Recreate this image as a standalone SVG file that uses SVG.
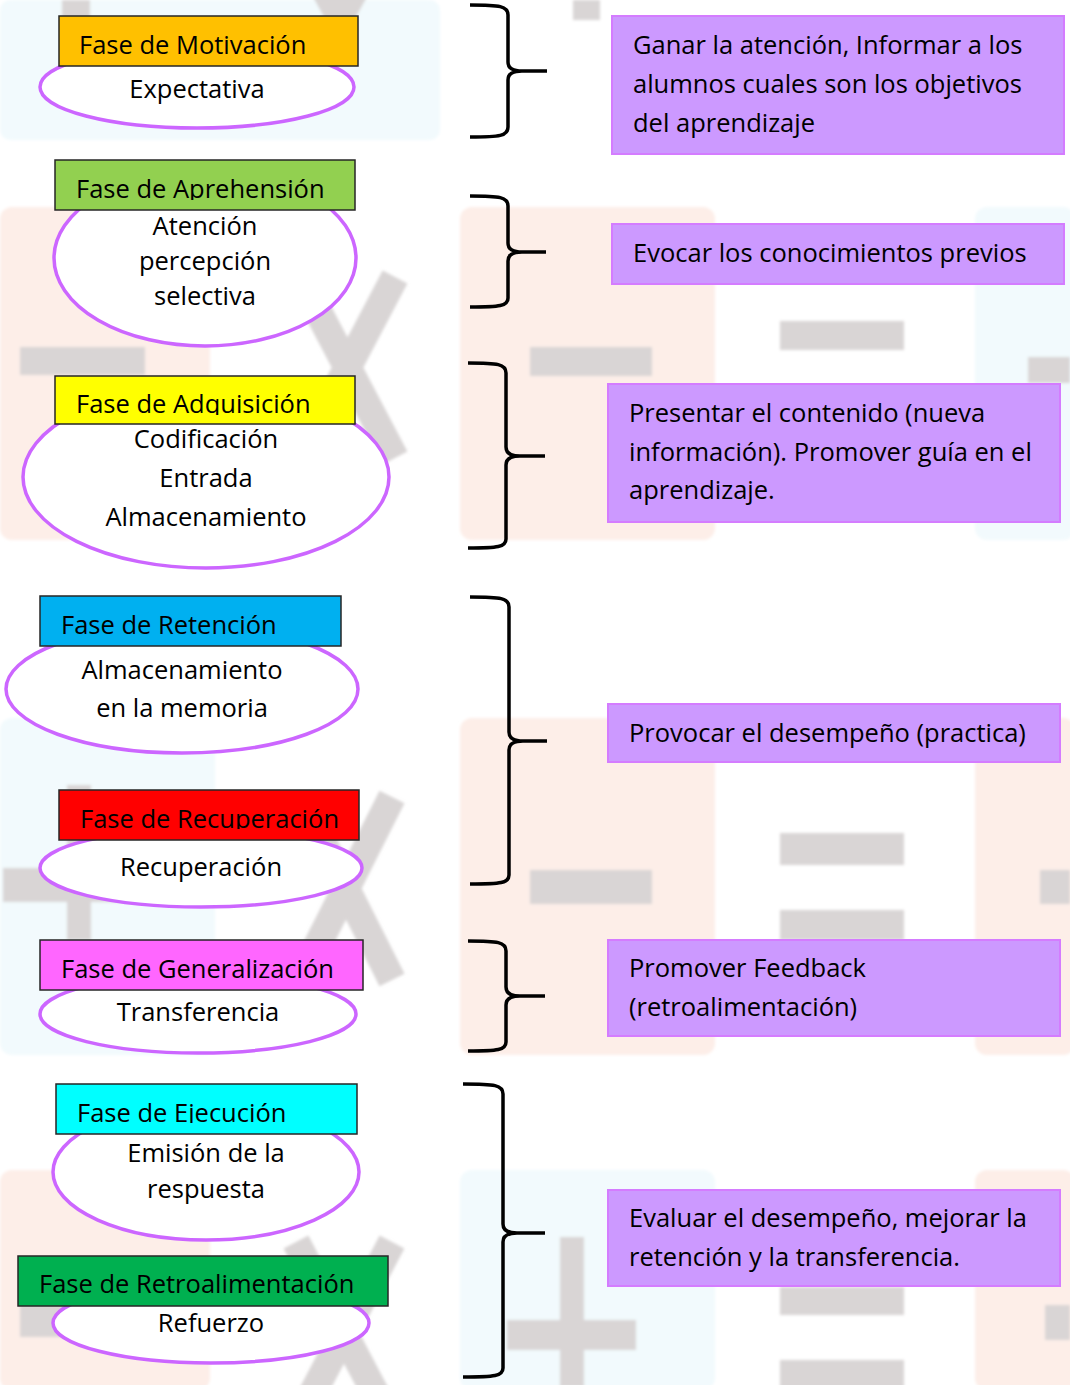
<svg xmlns="http://www.w3.org/2000/svg" width="1070" height="1385" viewBox="0 0 1070 1385">
<style>
  text { font-family: "Open Sans", "Liberation Sans", sans-serif; font-size: 25.5px; fill: #000; }
  .c { text-anchor: middle; }
  .lbl { stroke: #262626; stroke-width: 1.5; }
  .ell { fill: #fff; stroke: #cc66ff; stroke-width: 3.5; }
  .box { fill: #cc99ff; stroke: #d47cff; stroke-width: 2; }
  .brace { fill: none; stroke: #000; stroke-width: 3.5; stroke-linecap: butt; stroke-linejoin: round; }
  .tintP { fill: #fdeee8; }
  .tintB { fill: #f2fafd; }
  .sym { fill: #d9d5d5; }
  .symx { stroke: #d9d5d5; stroke-width: 28; fill: none; }
</style>
<defs>
  <filter id="soft" x="-5%" y="-5%" width="110%" height="110%">
    <feGaussianBlur stdDeviation="1.5"/>
  </filter>
  <clipPath id="clipAp"><rect x="55" y="160" width="300" height="40"/></clipPath>
  <clipPath id="clipAd"><rect x="55" y="376" width="300" height="39"/></clipPath>
  <clipPath id="clipRe"><rect x="59" y="790" width="300" height="39"/></clipPath>
  <clipPath id="clipEj"><rect x="56" y="1084" width="301" height="39"/></clipPath>
</defs>
<rect x="0" y="0" width="1070" height="1385" fill="#fff"/>

<g id="background" filter="url(#soft)">
  <rect class="tintB" x="0" y="0" width="440" height="140" rx="10"/>
  <rect class="tintP" x="0" y="207" width="210" height="333" rx="12"/>
  <rect class="tintP" x="460" y="207" width="255" height="333" rx="12"/>
  <rect class="tintB" x="975" y="207" width="100" height="333" rx="12"/>
  <rect class="tintB" x="0" y="718" width="215" height="337" rx="12"/>
  <rect class="tintP" x="460" y="718" width="255" height="337" rx="12"/>
  <rect class="tintP" x="975" y="718" width="100" height="337" rx="12"/>
  <rect class="tintP" x="0" y="1170" width="210" height="220" rx="12"/>
  <rect class="tintB" x="460" y="1170" width="255" height="220" rx="12"/>
  <rect class="tintP" x="975" y="1170" width="100" height="220" rx="12"/>
  <!-- row 1 -->
  <rect class="sym" x="62" y="0" width="28" height="18"/>
  <path class="symx" d="M240,-165 L340,17 M440,-165 L340,17"/>
  <rect class="sym" x="573" y="0" width="27" height="20"/>
  <!-- row 2 -->
  <rect class="sym" x="20" y="347" width="125" height="28"/>
  <path class="symx" d="M300,277 L395,458 M395,277 L300,458"/>
  <rect class="sym" x="530" y="347" width="122" height="29"/>
  <rect class="sym" x="780" y="321" width="124" height="29"/>
  <rect class="sym" x="1028" y="357" width="42" height="26"/>
  <!-- row 3 -->
  <rect class="sym" x="3" y="868" width="150" height="34"/>
  <rect class="sym" x="67" y="785" width="24" height="155"/>
  <path class="symx" d="M300,797 L392,980 M392,797 L300,980"/>
  <rect class="sym" x="530" y="870" width="122" height="34"/>
  <rect class="sym" x="780" y="833" width="124" height="32"/>
  <rect class="sym" x="780" y="910" width="124" height="30"/>
  <rect class="sym" x="1040" y="870" width="30" height="34"/>
  <!-- row 4 -->
  <rect class="sym" x="20" y="1305" width="125" height="32"/>
  <path class="symx" d="M296,1242 L392,1425 M392,1242 L296,1425"/>
  <rect class="sym" x="560" y="1237" width="24" height="150"/>
  <rect class="sym" x="507" y="1320" width="129" height="30"/>
  <rect class="sym" x="780" y="1287" width="124" height="28"/>
  <rect class="sym" x="780" y="1360" width="124" height="30"/>
  <rect class="sym" x="1045" y="1305" width="25" height="35"/>
</g>

<g id="connectors">
  <path class="brace" d="M470,5 C500,5 508,6 508,15 L508,62 C508,68 512,71 522,71 L547,71 M522,71 C512,71 508,74 508,80 L508,127 C508,136 500,137 470,137"/>
  <path class="brace" d="M470,196 C500,196 508,197 508,206 L508,243 C508,249 512,252 522,252 L546,252 M522,252 C512,252 508,255 508,261 L508,298 C508,306 500,307 470,307"/>
  <path class="brace" d="M468,363 C498,363 506,364 506,373 L506,447 C506,453 510,456 520,456 L545,456 M520,456 C510,456 506,459 506,465 L506,539 C506,547 498,548 468,548"/>
  <path class="brace" d="M470,597 C501,597 509,598 509,607 L509,732 C509,738 513,741 523,741 L547,741 M523,741 C513,741 509,744 509,750 L509,875 C509,883 501,884 470,884"/>
  <path class="brace" d="M468,941 C498,941 506,942 506,951 L506,987 C506,993 510,996 520,996 L545,996 M520,996 C510,996 506,999 506,1005 L506,1042 C506,1050 498,1051 468,1051"/>
  <path class="brace" d="M463,1084 C495,1084 503,1085 503,1094 L503,1224 C503,1230 507,1233 517,1233 L545,1233 M517,1233 C507,1233 503,1236 503,1242 L503,1368 C503,1376 495,1377 463,1377"/>
</g>

<g id="fase-motivacion">
  <ellipse class="ell" cx="197" cy="87" rx="157" ry="41"/>
  <rect class="lbl" x="59" y="16" width="299" height="50" fill="#ffc000"/>
  <text x="79" y="54">Fase de Motivación</text>
  <text class="c" x="197" y="98">Expectativa</text>
</g>

<g id="fase-aprehension">
  <ellipse class="ell" cx="205" cy="258" rx="151" ry="88"/>
  <rect class="lbl" x="55" y="160" width="300" height="50" fill="#92d050"/>
  <text x="76" y="198" clip-path="url(#clipAp)">Fase de Aprehensión</text>
  <text class="c" x="205" y="235">Atención</text>
  <text class="c" x="205" y="270">percepción</text>
  <text class="c" x="205" y="305">selectiva</text>
</g>

<g id="fase-adquisicion">
  <ellipse class="ell" cx="206" cy="477" rx="183" ry="91"/>
  <rect class="lbl" x="55" y="376" width="300" height="48" fill="#ffff00"/>
  <text x="76" y="413" clip-path="url(#clipAd)">Fase de Adquisición</text>
  <text class="c" x="206" y="448">Codificación</text>
  <text class="c" x="206" y="487">Entrada</text>
  <text class="c" x="206" y="526">Almacenamiento</text>
</g>

<g id="fase-retencion">
  <ellipse class="ell" cx="182" cy="689" rx="176" ry="64"/>
  <rect class="lbl" x="40" y="596" width="301" height="50" fill="#00b0f0"/>
  <text x="61" y="634">Fase de Retención</text>
  <text class="c" x="182" y="679">Almacenamiento</text>
  <text class="c" x="182" y="717">en la memoria</text>
</g>

<g id="fase-recuperacion">
  <ellipse class="ell" cx="201" cy="868" rx="161" ry="39"/>
  <rect class="lbl" x="59" y="790" width="300" height="50" fill="#ff0000"/>
  <text x="80" y="828" clip-path="url(#clipRe)">Fase de Recuperación</text>
  <text class="c" x="201" y="876">Recuperación</text>
</g>

<g id="fase-generalizacion">
  <ellipse class="ell" cx="198" cy="1014" rx="158" ry="39"/>
  <rect class="lbl" x="40" y="940" width="323" height="50" fill="#ff66ff"/>
  <text x="61" y="978">Fase de Generalización</text>
  <text class="c" x="198" y="1021">Transferencia</text>
</g>

<g id="fase-ejecucion">
  <ellipse class="ell" cx="206" cy="1172" rx="153" ry="68"/>
  <rect class="lbl" x="56" y="1084" width="301" height="50" fill="#00ffff"/>
  <text x="77" y="1122" clip-path="url(#clipEj)">Fase de Ejecución</text>
  <text class="c" x="206" y="1162">Emisión de la</text>
  <text class="c" x="206" y="1198">respuesta</text>
</g>

<g id="fase-retroalimentacion">
  <ellipse class="ell" cx="211" cy="1323" rx="158" ry="40"/>
  <rect class="lbl" x="18" y="1256" width="370" height="50" fill="#00b050"/>
  <text x="39" y="1293">Fase de Retroalimentación</text>
  <text class="c" x="211" y="1332">Refuerzo</text>
</g>

<g id="evento-1">
  <rect class="box" x="612" y="16" width="452" height="138"/>
  <text x="633" y="54">Ganar la atención, Informar a los</text>
  <text x="633" y="93">alumnos cuales son los objetivos</text>
  <text x="633" y="132">del aprendizaje</text>
</g>

<g id="evento-2">
  <rect class="box" x="612" y="224" width="452" height="60"/>
  <text x="633" y="262">Evocar los conocimientos previos</text>
</g>

<g id="evento-3">
  <rect class="box" x="608" y="384" width="452" height="138"/>
  <text x="629" y="422">Presentar el contenido (nueva</text>
  <text x="629" y="461">información). Promover guía en el</text>
  <text x="629" y="499">aprendizaje.</text>
</g>

<g id="evento-4">
  <rect class="box" x="608" y="704" width="452" height="58"/>
  <text x="629" y="742">Provocar el desempeño (practica)</text>
</g>

<g id="evento-5">
  <rect class="box" x="608" y="940" width="452" height="96"/>
  <text x="629" y="977">Promover Feedback</text>
  <text x="629" y="1016">(retroalimentación)</text>
</g>

<g id="evento-6">
  <rect class="box" x="608" y="1190" width="452" height="96"/>
  <text x="629" y="1227">Evaluar el desempeño, mejorar la</text>
  <text x="629" y="1266">retención y la transferencia.</text>
</g>
</svg>
